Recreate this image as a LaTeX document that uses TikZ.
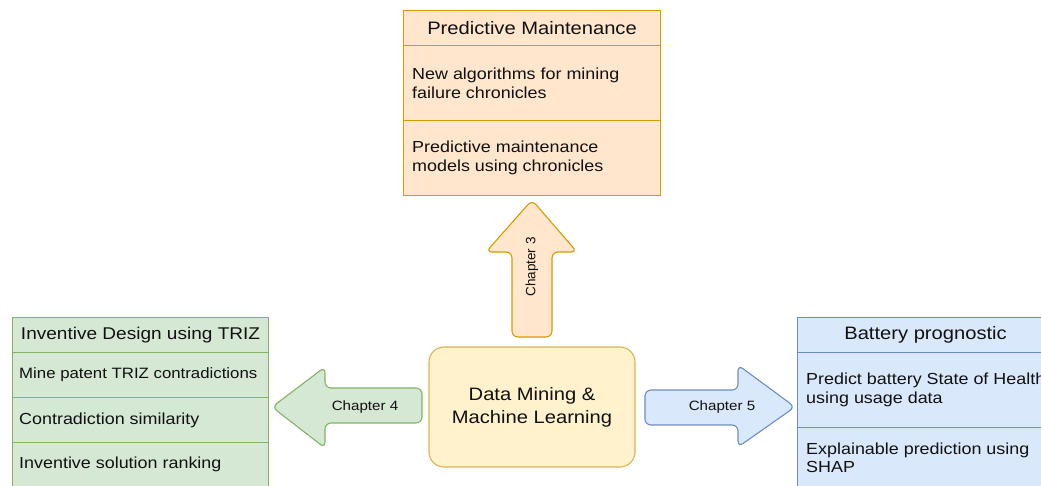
\documentclass[tikz,border=0pt]{standalone}
\usepackage{fontspec}
\setmainfont[FakeStretch=1.12]{Liberation Sans}
\newfontfamily\rotsans{Liberation Sans}
\definecolor{orfill}{HTML}{FFE6CC}\definecolor{ordraw}{HTML}{D79B00}
\definecolor{grfill}{HTML}{D5E8D4}\definecolor{grdraw}{HTML}{82B366}
\definecolor{blfill}{HTML}{DAE8FC}\definecolor{bldraw}{HTML}{6C8EBF}
\definecolor{yefill}{HTML}{FFF2CC}\definecolor{yedraw}{HTML}{D6B656}
\definecolor{txt}{HTML}{111111}
\tikzset{
  comp/.style={line width=1.1pt, anchor=north west, inner sep=0pt, minimum width=#1},
  orbox/.style={comp=257, draw=ordraw, fill=orfill},
  grbox/.style={comp=256, draw=grdraw, fill=grfill},
  blbox/.style={comp=256, draw=bldraw, fill=blfill},
  body/.style={font=\fontsize{16}{18.5}\selectfont, text=txt, anchor=west, align=left, inner sep=0pt},
  head/.style={font=\fontsize{18}{21}\selectfont, text=txt, inner sep=0pt},
  chap/.style={font=\fontsize{13.5}{16}\selectfont, text=txt, inner sep=0pt},
  blockarrow/.style={line width=1.1pt, rounded corners=6pt},
}
\begin{document}
\begin{tikzpicture}[x=1pt,y=-1pt]
\useasboundingbox (0,0) rectangle (1041,485);
\clip (0,0) rectangle (1041,485);
\fill[white] (0,0) rectangle (1041,485);

% Predictive Maintenance
\node[orbox, minimum height=35] (pm1) at (403,10) {};
\node[orbox, minimum height=75] (pm2) at (403,45) {};
\node[orbox, minimum height=75] (pm3) at (403,120) {};
\node[head] (pmh) at (pm1.center) {Predictive Maintenance};
\node[body] (pmt2) at ([xshift=9pt]pm2.west) {New algorithms for mining\\failure chronicles};
\node[body] (pmt3) at ([xshift=9pt]pm3.west) {Predictive maintenance\\models using chronicles};

% Inventive Design using TRIZ
\node[grbox, minimum height=35] (tr1) at (12,317) {};
\node[grbox, minimum height=45] (tr2) at (12,352) {};
\node[grbox, minimum height=45] (tr3) at (12,397) {};
\node[grbox, minimum height=50] (tr4) at (12,442) {};
\node[head, font=\fontsize{17}{20}\selectfont] (trh) at (tr1.center) {Inventive Design using TRIZ};
\node[body, font=\fontsize{15}{18}\selectfont] (trt2) at ([xshift=7pt]tr2.west) {Mine patent TRIZ contradictions};
\node[body] (trt3) at ([xshift=7pt]tr3.west) {Contradiction similarity};
\node[body] (trt4) at ([xshift=7pt,yshift=3pt]tr4.west) {Inventive solution ranking};

% Battery prognostic
\node[blbox, minimum height=35] (bp1) at (797,317) {};
\node[blbox, minimum height=75] (bp2) at (797,352) {};
\node[blbox, minimum height=75] (bp3) at (797,427) {};
\node[head] (bph) at (bp1.center) {Battery prognostic};
\node[body] (bpt2) at ([xshift=9pt]bp2.west) {Predict battery State of Health\\using usage data};
\node[body] (bpt3) at ([xshift=9pt,yshift=7.5pt]bp3.west) {Explainable prediction using\\SHAP};

% Centre
\node[draw=yedraw, fill=yefill, line width=1.1pt, rounded corners=15pt,
      minimum width=206, minimum height=120, inner sep=0pt] (dm) at (532,407) {};
\node[head, align=center, font=\fontsize{18}{23}\selectfont] (dmt) at (dm.center) {Data Mining \&\\Machine Learning};

% Chapter arrows
\draw[blockarrow, draw=ordraw, fill=orfill] (532,337) -- (512,337) -- (512,252) -- (486,252) -- (532,200)
  -- (577,252) -- (552,252) -- (552,337) -- cycle;
\node[chap, rotate=90, font=\rotsans\fontsize{13.5}{16}\selectfont] (c3) at (532,267) {Chapter 3};

\draw[blockarrow, draw=grdraw, fill=grfill] (422,406) -- (422,423) -- (325,423) -- (325,448) -- (272,407)
  -- (325,367) -- (325,388) -- (422,388) -- cycle;
\node[chap] (c4) at (365,407) {Chapter 4};

\draw[blockarrow, draw=bldraw, fill=blfill] (645,407) -- (645,390) -- (738,390) -- (738,365) -- (795,407)
  -- (738,447) -- (738,425) -- (645,425) -- cycle;
\node[chap] (c5) at (722,407) {Chapter 5};
\end{tikzpicture}
\end{document}
